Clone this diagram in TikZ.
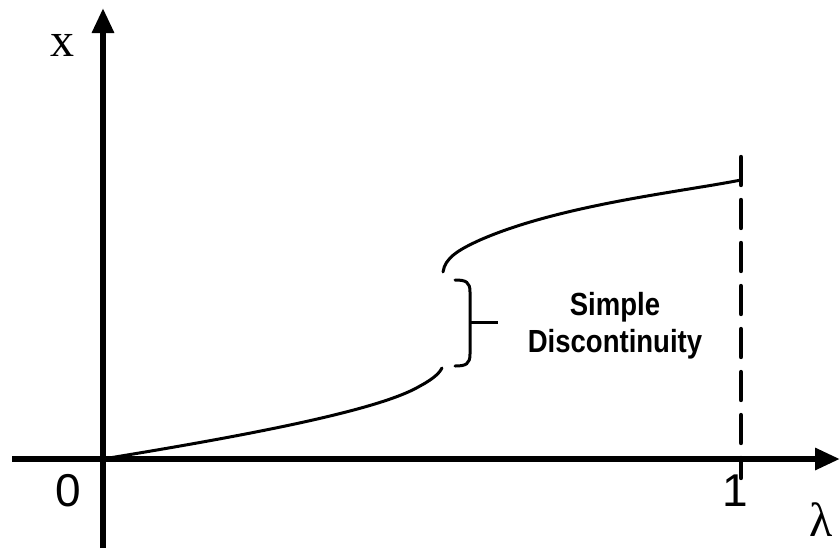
\documentclass[tikz,border=0pt]{standalone}
\usepackage{fontspec}
\setmainfont{Liberation Serif}
\newfontfamily\labelfont{Liberation Sans}
\newfontfamily\discfont[FakeStretch=0.86]{Liberation Sans}
\usetikzlibrary{arrows.meta}

\tikzset{
  axisline/.style={line width=3pt,-{Triangle[length=12.5pt,width=10.5pt]}},
  curveline/.style={line width=1.5pt,line cap=round},
  boundline/.style={line width=2.2pt,line cap=round,dash pattern=on 14pt off 7.5pt},
  ticklabel/.style={font=\labelfont\fontsize{23}{23}\selectfont},
  axislabel/.style={font=\fontsize{24}{24}\selectfont},
}

\begin{document}
\begin{tikzpicture}[x=0.5pt,y=-0.5pt]
    \useasboundingbox (0,0) rectangle (840,552);
    % Achsen
    \coordinate (yfoot) at (103,548);
    \coordinate (ytip) at (103,8);
    \coordinate (xfoot) at (12,459);
    \coordinate (xtip) at (840,459);
    \draw[axisline] (yfoot) -- (ytip);
    \draw[axisline] (xfoot) -- (xtip);
    % Grenze bei 1
    \coordinate (btop) at (741,157);
    \coordinate (bbot) at (741,478);
    \draw[boundline] (btop) -- (bbot);
    % Kurve, unterer Ast
    \draw[curveline] (103,459) .. controls (250,435) and (380,410) .. (420,386)
        .. controls (435,378) and (440,372) .. (442,368);
    % Kurve, oberer Ast
    \draw[curveline] (443,272) .. controls (445,258) and (458,250) .. (480,240)
        .. controls (560,205) and (680,192) .. (741,180);
    % Klammer
    \draw[line width=1.5pt,line cap=round] (455,280) .. controls (466,280) and (470,282) .. (470,292)
        -- (470,354) .. controls (470,364) and (466,366) .. (455,366);
    \coordinate (bracemid) at (470,322);
    \node[align=center,font=\discfont\bfseries\fontsize{16}{18.5}\selectfont]
        (disc) at (615,326) {Simple\\Discontinuity};
    \draw[line width=1.5pt] (bracemid) -- ++(28,0);
    % Beschriftungen
    \node[ticklabel] (zero) at (68,491) {0};
    \node[ticklabel] (one) at (735,491) {1};
    \node[axislabel] (xlab) at (62,45) {x};
    \node[axislabel] (lamlab) at (821,520) {λ};
\end{tikzpicture}
\end{document}
